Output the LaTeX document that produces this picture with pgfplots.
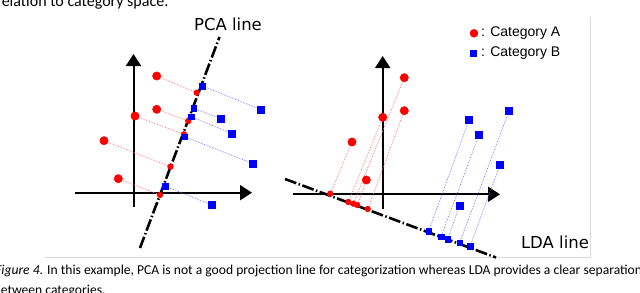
\documentclass[border=0pt]{standalone}
\usepackage{fontspec}
\setmainfont{Carlito}
\newfontfamily\dejavu{DejaVu Sans}
\newfontfamily\libsans{Liberation Sans}
\usepackage{pgfplots}
\pgfplotsset{compat=1.18}
\usetikzlibrary{arrows.meta}
\begin{document}
\begin{tikzpicture}
\path[use as bounding box] (0,0) rectangle (640bp,293bp);
\begin{axis}[at={(0,0)}, anchor=south west, scale only axis,
  width=640bp, height=293bp, xmin=0, xmax=640, ymin=0, ymax=293,
  y dir=reverse, hide axis, clip=false,
  proj/.style={densely dotted, line width=0.7bp},
  ax/.style={black, line width=2bp, -{Triangle[length=12bp,width=15bp]}},
  dline/.style={black, line width=2.6bp, dash pattern=on 12bp off 2.5bp on 1.5bp off 2.5bp}]
% grey frame
\addplot[gray!30, line width=1bp] coordinates {(45,257.5) (590.5,257.5) (590.5,17)};
% ---------- left panel (PCA) ----------
\addplot[ax] coordinates {(133.5,207) (133.5,54)};
\addplot[ax] coordinates {(75,192.7) (252,192.7)};
% projection lines red
\addplot[proj, red!55] coordinates {(156.7,76) (196.7,92.7)};
\addplot[proj, red!55] coordinates {(156.7,109.3) (188.3,121)};
\addplot[proj, red!55] coordinates {(135,116) (184,134.3)};
\addplot[proj, red!55] coordinates {(104,140.7) (170.5,166.7)};
\addplot[proj, red!55] coordinates {(118.3,178.7) (160,195)};
% projection lines blue
\addplot[proj, blue!55] coordinates {(261,109.7) (202.3,86)};
\addplot[proj, blue!55] coordinates {(221,118.7) (193.7,108.3)};
\addplot[proj, blue!55] coordinates {(231.7,133.3) (191,116.7)};
\addplot[proj, blue!55] coordinates {(252.3,163.3) (184.7,136.7)};
\addplot[proj, blue!55] coordinates {(211.7,205) (165,186)};
% PCA line
\addplot[dline] coordinates {(140,248) (219.5,37)};
% points
\addplot[only marks, mark=*, mark size=4.2bp, red, mark options={draw=none, fill=red}] coordinates {(156.7,76) (156.7,109.3) (135,116) (104,140.7) (118.3,178.7)};
\addplot[only marks, mark=*, mark size=2.9bp, red, mark options={draw=none, fill=red}] coordinates {(196.7,92.7) (188.3,121) (184,134.3) (170.5,166.7) (160,195)};
\addplot[only marks, mark=square*, mark size=3.6bp, blue, mark options={draw=none, fill=blue}] coordinates {(261,109.7) (221,118.7) (231.7,133.3) (252.3,163.3) (211.7,205)};
\addplot[only marks, mark=square*, mark size=2.7bp, blue, mark options={draw=none, fill=blue}] coordinates {(202.3,86) (193.7,108.3) (191,116.7) (184.7,136.7) (165,186)};
% ---------- right panel (LDA) ----------
\addplot[ax] coordinates {(382.7,209) (382.7,56)};
\addplot[ax] coordinates {(292.7,194.3) (500,194.3)};
\addplot[proj, red!55] coordinates {(352,142) (330.3,193.7)};
\addplot[proj, red!55] coordinates {(382.7,117.3) (348.3,202)};
\addplot[proj, red!55] coordinates {(404.3,77.7) (353.3,203.7)};
\addplot[proj, red!55] coordinates {(366.3,180) (357.3,205)};
\addplot[proj, red!55] coordinates {(404.3,110.7) (367.7,209)};
\addplot[proj, blue!55] coordinates {(469,120) (428.7,231)};
\addplot[proj, blue!55] coordinates {(479,135) (441,236.7)};
\addplot[proj, blue!55] coordinates {(459.3,206) (447.7,239)};
\addplot[proj, blue!55] coordinates {(509,111) (459.7,242.7)};
\addplot[proj, blue!55] coordinates {(500,165) (470,246.3)};
% LDA line
\addplot[dline] coordinates {(285,179) (496,257.5)};
\addplot[only marks, mark=*, mark size=4.2bp, red, mark options={draw=none, fill=red}] coordinates {(404.3,77.7) (404.3,110.7) (382.7,117.3) (352,142) (366.3,180)};
\addplot[only marks, mark=*, mark size=2.9bp, red, mark options={draw=none, fill=red}] coordinates {(330.3,193.7) (348.3,202) (353.3,203.7) (357.3,205) (367.7,209)};
\addplot[only marks, mark=square*, mark size=3.6bp, blue, mark options={draw=none, fill=blue}] coordinates {(469,120) (479,135) (509,111) (500,165) (459.3,206)};
\addplot[only marks, mark=square*, mark size=2.7bp, blue, mark options={draw=none, fill=blue}] coordinates {(428.7,231) (441,236.7) (447.7,239) (459.7,242.7) (470,246.3)};
% legend
\addplot[only marks, mark=*, mark size=4bp, red, mark options={draw=none, fill=red}] coordinates {(474,33.3)};
\addplot[only marks, mark=square*, mark size=3.2bp, blue, mark options={draw=none, fill=blue}] coordinates {(473,53.3)};
\node[anchor=west, inner sep=0pt, font=\libsans\fontsize{14bp}{16bp}\selectfont] at (axis cs:481,33.3) {: Category A};
\node[anchor=west, inner sep=0pt, font=\libsans\fontsize{14bp}{16bp}\selectfont] at (axis cs:481,53.3) {: Category B};
% line labels
\node[inner sep=0pt, font=\dejavu\fontsize{16.5bp}{18bp}\selectfont] at (axis cs:228,24) {PCA line};
\node[inner sep=0pt, font=\dejavu\fontsize{16.5bp}{18bp}\selectfont] at (axis cs:555,242) {LDA line};
% surrounding text
\node[anchor=base east, inner sep=0pt, font=\fontsize{16bp}{19bp}\selectfont] at (axis cs:168.5,6.7) {relation to category space.};
\node[anchor=base west, inner sep=0pt, font=\fontsize{13.6bp}{16bp}\selectfont] at (axis cs:-5,274.3) {\textit{Figure 4}. In this example, PCA is not a good projection line for categorization whereas LDA provides a clear separation};
\node[anchor=base west, inner sep=0pt, font=\fontsize{13.6bp}{16bp}\selectfont] at (axis cs:-6.5,294) {between categories.};
\end{axis}
\end{tikzpicture}
\end{document}
